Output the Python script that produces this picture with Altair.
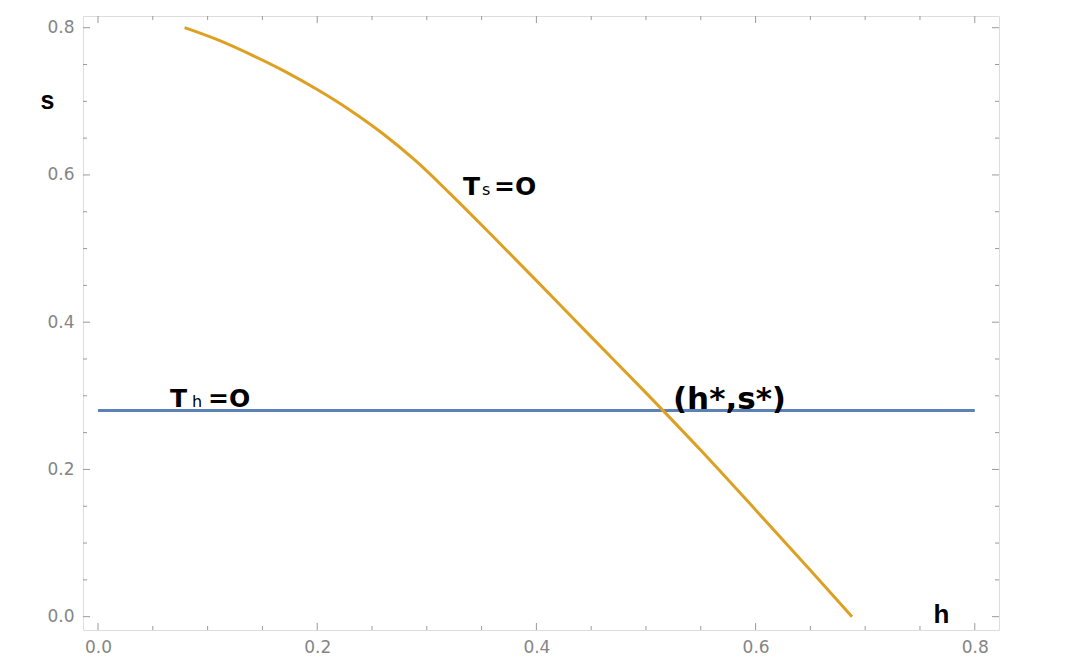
import altair as alt
import pandas as pd

# ---- data ----
curve_h = [0.079, 0.110, 0.140, 0.170, 0.200, 0.230, 0.260, 0.290, 0.321, 0.360, 0.400,
           0.450, 0.500, 0.550, 0.600, 0.650, 0.688]
curve_s = [0.800, 0.783, 0.763, 0.741, 0.716, 0.688, 0.656, 0.619, 0.575, 0.517, 0.4565,
           0.380, 0.304, 0.226, 0.145, 0.063, 0.000]

line_h = [0.0, 0.8]
line_s = [0.28, 0.28]

major_ticks = [0.0, 0.2, 0.4, 0.6, 0.8]
minor_ticks = [0.05, 0.10, 0.15, 0.25, 0.30, 0.35, 0.45, 0.50, 0.55, 0.65, 0.70, 0.75]

# annotation pieces: big bold parts and small subscript parts
big_text = ["T", "=O", "T", "=O"]
big_h = [0.333, 0.3613, 0.0657, 0.1004]
big_s = [0.573, 0.573, 0.285, 0.285]

sub_text = ["s", "h"]
sub_h = [0.3504, 0.0858]
sub_s = [0.573, 0.285]

pt_text = ["(h*,s*)"]
pt_h = [0.5246]
pt_s = [0.282]

# ---- layout ----
W, H = 916, 614
XDOM = [-0.0137, 0.8221]
YDOM = [-0.0181, 0.8159]
ORANGE = "#DDA022"
BLUE = "#5E81B5"
FRAME = "#9a9a9a"

xs = alt.Scale(domain=XDOM, nice=False, zero=False)
ys = alt.Scale(domain=YDOM, nice=False, zero=False)

xaxis = alt.Axis(values=major_ticks, format=".1f", ticks=False, domain=False, grid=False,
                 labelPadding=9, labelFont="DejaVu Sans", labelFontSize=17, labelColor="#858585",
                 labelFlush=False, labelOverlap=False,
                 title="h", titleX=858, titleY=-16, titleAlign="center", titleBaseline="middle",
                 titleFont="Liberation Sans", titleFontSize=26, titleFontWeight="bold", titleColor="black")
yaxis = alt.Axis(values=major_ticks, format=".1f", ticks=False, domain=False, grid=False,
                 labelPadding=9, labelFont="DejaVu Sans", labelFontSize=17, labelColor="#858585",
                 labelFlush=False, labelOverlap=False,
                 title="s", titleAngle=0, titleX=-36, titleY=84, titleAlign="center", titleBaseline="middle",
                 titleFont="Liberation Sans", titleFontSize=25, titleFontWeight="bold", titleColor="black")


def X(f):
    return alt.X(f, type="quantitative", scale=xs, axis=xaxis)


def Y(f):
    return alt.Y(f, type="quantitative", scale=ys, axis=yaxis)


curve_df = pd.DataFrame({"h": curve_h, "s": curve_s})
line_df = pd.DataFrame({"h": line_h, "s": line_s})
maj_df = pd.DataFrame({"v": major_ticks})
min_df = pd.DataFrame({"v": minor_ticks})
big_df = pd.DataFrame({"h": big_h, "s": big_s, "t": big_text})
sub_df = pd.DataFrame({"h": sub_h, "s": sub_s, "t": sub_text})
pt_df = pd.DataFrame({"h": pt_h, "s": pt_s, "t": pt_text})

blue = alt.Chart(line_df).mark_line(color=BLUE, strokeWidth=3).encode(x=X("h"), y=Y("s"))
orange = alt.Chart(curve_df).mark_line(color=ORANGE, strokeWidth=3, interpolate="monotone").encode(
    x=X("h"), y=Y("s"), order=alt.Order("h:Q"))

big = alt.Chart(big_df).mark_text(font="DejaVu Sans", fontWeight="bold", fontSize=25, align="left",
                                  baseline="alphabetic", color="black").encode(x=X("h"), y=Y("s"), text="t:N")
sub = alt.Chart(sub_df).mark_text(font="DejaVu Sans", fontSize=16, align="left",
                                  baseline="alphabetic", color="black").encode(x=X("h"), y=Y("s"), text="t:N")
pt = alt.Chart(pt_df).mark_text(font="DejaVu Sans", fontWeight="bold", fontSize=31, align="left",
                                baseline="alphabetic", color="black").encode(x=X("h"), y=Y("s"), text="t:N")


def side_ticks(df, length):
    rule = alt.Chart(df).mark_rule(color=FRAME, strokeWidth=1)
    left = rule.encode(y=Y("v"), x=alt.value(0), x2=alt.value(length))
    right = rule.encode(y=Y("v"), x=alt.value(W), x2=alt.value(W - length))
    bottom = rule.encode(x=X("v"), y=alt.value(H), y2=alt.value(H - length))
    top = rule.encode(x=X("v"), y=alt.value(0), y2=alt.value(length))
    return [left, right, bottom, top]


layers = side_ticks(maj_df, 7) + side_ticks(min_df, 4) + [blue, orange, big, sub, pt]

chart = alt.layer(*layers).properties(
    width=W, height=H,
    autosize=alt.AutoSizeParams(type="none"),
    padding={"left": 75, "top": 8, "right": 60, "bottom": 30},
).configure_view(stroke=FRAME, strokeWidth=1.2).configure(background="white")

chart.save("out.html", embed_options={"renderer": "svg", "actions": False})
